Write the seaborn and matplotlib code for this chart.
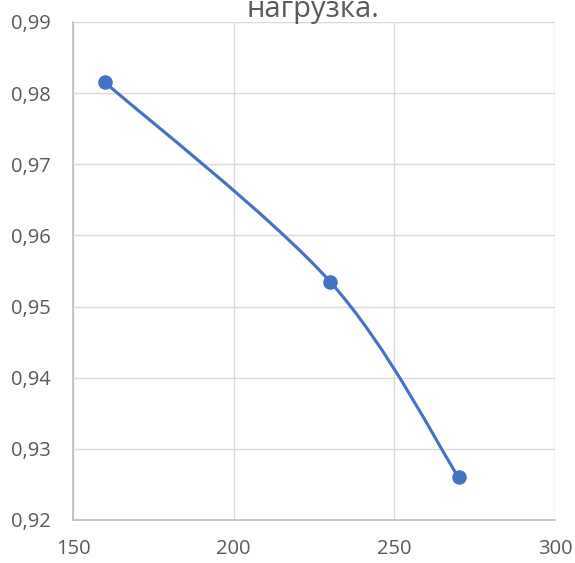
import numpy as np
import pandas as pd
import seaborn as sns
import matplotlib
matplotlib.use('Agg')
import matplotlib.pyplot as plt
from matplotlib.path import Path
from matplotlib.patches import PathPatch
from matplotlib.ticker import FuncFormatter, MultipleLocator

# values
load = [160, 230, 270]
efficiency = [0.9815, 0.9535, 0.926]
title_text = 'нагрузка.'

blue = '#4472C4'
grey_text = '#595959'
grid_grey = '#d9d9d9'

sns.set_theme(style='white')
plt.rcParams['font.family'] = ['Open Sans', 'DejaVu Sans']

df = pd.DataFrame({'load': load, 'eff': efficiency})

fig = plt.figure(figsize=(5.75, 5.63), dpi=100)
ax = fig.add_axes([73 / 575, 1 - 520 / 563, (555 - 73) / 575, (520 - 22) / 563])

ax.set_xlim(150, 300)
ax.set_ylim(0.92, 0.99)
ax.xaxis.set_major_locator(MultipleLocator(50))
ax.yaxis.set_major_locator(MultipleLocator(0.01))
ax.xaxis.set_major_formatter(FuncFormatter(lambda v, p: f'{v:.0f}'))
ax.yaxis.set_major_formatter(FuncFormatter(lambda v, p: f'{v:.2f}'.replace('.', ',')))
ax.grid(True, color=grid_grey, linewidth=1)
for side in ax.spines:
    ax.spines[side].set_visible(False)
ax.spines['left'].set_visible(True)
ax.spines['bottom'].set_visible(True)
ax.spines['left'].set_color('#bfbfbf')
ax.spines['bottom'].set_color('#bfbfbf')
ax.tick_params(length=0, labelsize=14.5, labelcolor=grey_text)
ax.tick_params(axis='y', pad=16)
ax.tick_params(axis='x', pad=14)

# Excel-like smoothed line: cubic Bezier through the points, built in display space
fig.canvas.draw()
pts = ax.transData.transform(np.column_stack([load, efficiency]))
ext = np.vstack([pts[0], pts, pts[-1]])
verts = [pts[0]]
codes = [Path.MOVETO]
for i in range(len(pts) - 1):
    p0, p1, p2, p3 = ext[i], ext[i + 1], ext[i + 2], ext[i + 3]
    c1 = p1 + (p2 - p0) / 6
    c2 = p2 - (p3 - p1) / 6
    verts += [c1, c2, p2]
    codes += [Path.CURVE4] * 3
data_verts = ax.transData.inverted().transform(np.array(verts))
ax.add_patch(PathPatch(Path(data_verts, codes), facecolor='none', edgecolor=blue,
                       linewidth=2.25, capstyle='round', zorder=3))

sns.scatterplot(data=df, x='load', y='eff', ax=ax, color=blue, s=110,
                edgecolor=blue, linewidth=0, zorder=4, legend=False)
ax.set_xlabel('')
ax.set_ylabel('')

fig.text(0.545, 1 - 17 / 563, title_text, ha='center', va='baseline',
         fontsize=21, color=grey_text)

fig.savefig('out.png', dpi=100)
